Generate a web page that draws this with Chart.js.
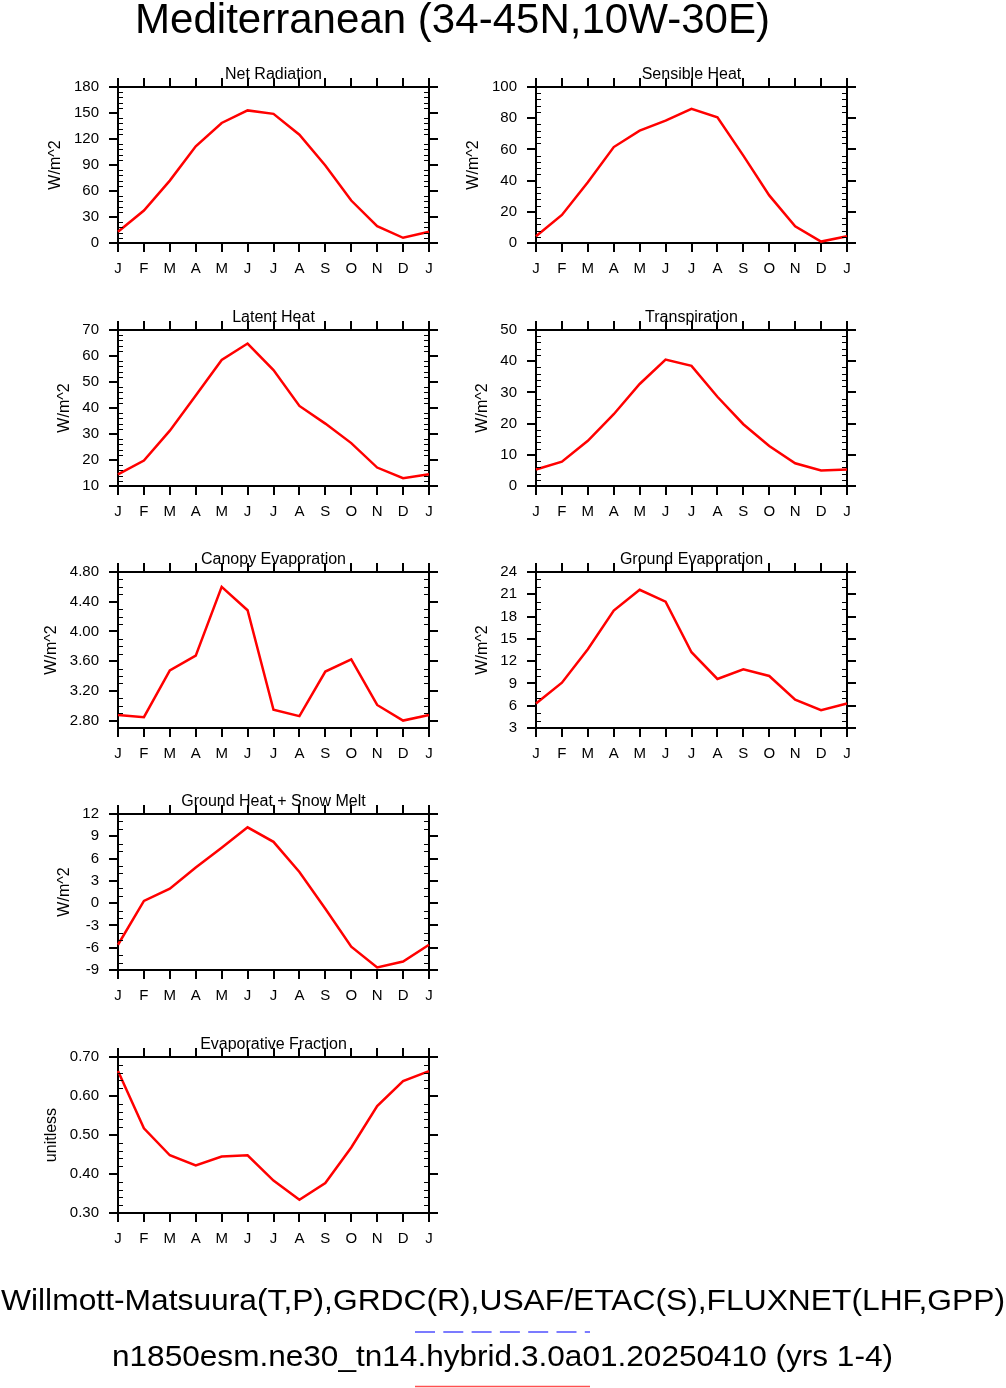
<!DOCTYPE html>
<html>
<head>
<meta charset="utf-8">
<script src="https://cdn.jsdelivr.net/npm/chart.js@4.4.1/dist/chart.umd.min.js"></script>
<style>
html,body{margin:0;padding:0;background:#fff;}
body{width:1006px;height:1388px;position:relative;overflow:hidden;}
canvas{position:absolute;}
</style>
</head>
<body>
<canvas id="textLayer" width="1006" height="1388" style="left:0;top:0;"></canvas>
<script>
// ---------------- DATA ----------------
const months = ['J','F','M','A','M','J','J','A','S','O','N','D','J'];

const netRadiation      = [13, 37.5, 72, 111.5, 138.5, 153, 149, 125, 89.5, 49, 19.5, 6, 13];
const sensibleHeat      = [4.3, 18, 39, 61.5, 72, 78.5, 86, 80.5, 56, 30.5, 10.7, 0.9, 4.3];
const latentHeat        = [14.5, 19.8, 31.3, 44.8, 58.5, 64.8, 54.6, 40.8, 34, 26.5, 17.1, 13, 14.5];
const transpiration     = [5.3, 7.8, 14.5, 23, 32.7, 40.5, 38.5, 28.6, 19.8, 12.8, 7.3, 5.0, 5.3];
const canopyEvaporation = [2.875, 2.845, 3.475, 3.675, 4.6, 4.285, 2.945, 2.86, 3.46, 3.625, 3.01, 2.8, 2.875];
const groundEvaporation = [6.3, 9.1, 13.6, 18.8, 21.6, 20.0, 13.2, 9.6, 10.9, 10.0, 6.8, 5.4, 6.3];
const groundHeatSnow    = [-5.6, 0.3, 1.95, 4.8, 7.45, 10.2, 8.25, 4.2, -0.75, -5.85, -8.65, -7.85, -5.6];
const evapFraction      = [0.664, 0.517, 0.448, 0.422, 0.445, 0.448, 0.383, 0.334, 0.377, 0.468, 0.574, 0.638, 0.664];

const netRadiationTicks      = [0, 30, 60, 90, 120, 150, 180];
const sensibleHeatTicks      = [0, 20, 40, 60, 80, 100];
const latentHeatTicks        = [10, 20, 30, 40, 50, 60, 70];
const transpirationTicks     = [0, 10, 20, 30, 40, 50];
const canopyEvaporationTicks = [2.80, 3.20, 3.60, 4.00, 4.40, 4.80];
const groundEvaporationTicks = [3, 6, 9, 12, 15, 18, 21, 24];
const groundHeatSnowTicks    = [-9, -6, -3, 0, 3, 6, 9, 12];
const evapFractionTicks      = [0.30, 0.40, 0.50, 0.60, 0.70];

const mainTitle = 'Mediterranean (34-45N,10W-30E)';
const obsLabel = 'Willmott-Matsuura(T,P),GRDC(R),USAF/ETAC(S),FLUXNET(LHF,GPP)';
const caseLabel = 'n1850esm.ne30_tn14.hybrid.3.0a01.20250410 (yrs 1-4)';

// ---------------- PANELS ----------------
const panels = [
  {title:'Net Radiation', ylabel:'W/m^2', data:netRadiation, ticks:netRadiationTicks, min:0, max:180, minor:6, dec:0, col:0, row:0},
  {title:'Sensible Heat', ylabel:'W/m^2', data:sensibleHeat, ticks:sensibleHeatTicks, min:0, max:100, minor:4, dec:0, col:1, row:0},
  {title:'Latent Heat', ylabel:'W/m^2', data:latentHeat, ticks:latentHeatTicks, min:10, max:70, minor:2, dec:0, col:0, row:1},
  {title:'Transpiration', ylabel:'W/m^2', data:transpiration, ticks:transpirationTicks, min:0, max:50, minor:2, dec:0, col:1, row:1},
  {title:'Canopy Evaporation', ylabel:'W/m^2', data:canopyEvaporation, ticks:canopyEvaporationTicks, min:2.70, max:4.80, minor:0.1, dec:2, col:0, row:2},
  {title:'Ground Evaporation', ylabel:'W/m^2', data:groundEvaporation, ticks:groundEvaporationTicks, min:3, max:24, minor:1, dec:0, col:1, row:2},
  {title:'Ground Heat + Snow Melt', ylabel:'W/m^2', data:groundHeatSnow, ticks:groundHeatSnowTicks, min:-9, max:12, minor:1, dec:0, col:0, row:3},
  {title:'Evaporative Fraction', ylabel:'unitless', data:evapFraction, ticks:evapFractionTicks, min:0.30, max:0.70, minor:0.02, dec:2, col:0, row:4}
];

// ---------------- LAYOUT ----------------
const FONT = '"Liberation Sans", Arial, Helvetica, sans-serif';
const COL_X = [118, 536];
const ROW_Y = [87, 329.5, 572, 814, 1056.5];
const PLOT_W = 311, PLOT_H = 155.5;
const PAD_L = 95, PAD_R = 25, PAD_T = 40, PAD_B = 40;

const minorTicksPlugin = {
  id: 'minorTicks',
  afterDraw(chart, args, opts) {
    const p = chart.options.plugins.minorTicks.panel;
    const ctx = chart.ctx, ys = chart.scales.y, a = chart.chartArea;
    ctx.save();
    ctx.strokeStyle = '#000';
    ctx.lineWidth = 1.2;
    const n = Math.round((p.max - p.min) / p.minor);
    for (let i = 0; i <= n; i++) {
      const v = p.min + i * p.minor;
      const isMajor = p.ticks.some(t => Math.abs(t - v) < p.minor * 0.01);
      if (isMajor) continue;
      const y = Math.round(ys.getPixelForValue(v)) + 0.5;
      ctx.beginPath();
      ctx.moveTo(a.left, y); ctx.lineTo(a.left + 5, y);
      ctx.moveTo(a.right, y); ctx.lineTo(a.right - 5, y);
      ctx.stroke();
    }
    // panel title
    ctx.fillStyle = '#000';
    ctx.font = '16px ' + FONT;
    ctx.textAlign = 'center';
    ctx.textBaseline = 'alphabetic';
    ctx.fillText(p.title, (a.left + a.right) / 2, a.top - 8.5);
    // y-axis title
    let wmax = 0;
    ctx.font = '15px ' + FONT;
    p.ticks.forEach(t => { wmax = Math.max(wmax, ctx.measureText(t.toFixed(p.dec)).width); });
    const cx = a.left - (wmax + 37);
    ctx.translate(cx, (a.top + a.bottom) / 2);
    ctx.rotate(-Math.PI / 2);
    ctx.font = '16px ' + FONT;
    ctx.textBaseline = 'middle';
    ctx.fillText(p.ylabel, 0, 0);
    ctx.restore();
  }
};

function axisGrid() {
  return {display:true, drawOnChartArea:false, drawTicks:true, tickLength:9, lineWidth:2, color:'#000', offset:false};
}
function axisBorder() {
  return {display:true, width:2, color:'#000'};
}

function makePanel(p) {
  const W = PLOT_W + PAD_L + PAD_R, H = PLOT_H + PAD_T + PAD_B;
  const cv = document.createElement('canvas');
  cv.width = Math.round(W); cv.height = Math.round(H);
  cv.style.left = (COL_X[p.col] - PAD_L) + 'px';
  cv.style.top = (ROW_Y[p.row] - PAD_T) + 'px';
  document.body.appendChild(cv);
  const tickFont = {family: FONT, size: 15};
  new Chart(cv, {
    type: 'line',
    data: {
      labels: months,
      datasets: [{data: p.data, borderColor:'#ff0000', borderWidth:2.5, pointRadius:0, tension:0, fill:false, xAxisID:'x', yAxisID:'y'}]
    },
    options: {
      responsive:false, animation:false, devicePixelRatio:1,
      layout:{padding:0},
      plugins:{legend:{display:false}, tooltip:{enabled:false}, title:{display:false}, minorTicks:{panel:p}},
      scales:{
        x:{type:'category', labels:months, position:'bottom', offset:false,
           grid:axisGrid(), border:axisBorder(),
           ticks:{color:'#000', font:tickFont, padding:8, maxRotation:0, minRotation:0, autoSkip:false},
           afterFit(s){ s.height = PAD_B; }},
        x2:{type:'category', labels:months, position:'top', offset:false,
           grid:axisGrid(), border:axisBorder(),
           ticks:{display:false},
           afterFit(s){ s.height = PAD_T; }},
        y:{type:'linear', position:'left', min:p.min, max:p.max,
           grid:axisGrid(), border:axisBorder(),
           afterBuildTicks(s){ s.ticks = p.ticks.map(v => ({value:v})); },
           ticks:{color:'#000', font:tickFont, padding:10, callback:(v) => Number(v).toFixed(p.dec)},
           afterFit(s){ s.width = PAD_L; }},
        y2:{type:'linear', position:'right', min:p.min, max:p.max,
           grid:axisGrid(), border:axisBorder(),
           afterBuildTicks(s){ s.ticks = p.ticks.map(v => ({value:v})); },
           ticks:{display:false},
           afterFit(s){ s.width = PAD_R; }}
      }
    },
    plugins:[minorTicksPlugin]
  });
}
panels.forEach(makePanel);

// ---------------- TEXT LAYER ----------------
(function(){
  const c = document.getElementById('textLayer');
  const ctx = c.getContext('2d');
  function fitText(txt, size, x0, x1, baseline) {
    ctx.save();
    ctx.font = size + 'px ' + FONT;
    ctx.fillStyle = '#000';
    ctx.textBaseline = 'alphabetic';
    ctx.textAlign = 'left';
    const w = ctx.measureText(txt).width;
    const sx = (x1 - x0) / w;
    ctx.translate(x0, baseline);
    ctx.scale(sx, 1);
    ctx.fillText(txt, 0, 0);
    ctx.restore();
  }
  fitText(mainTitle, 42, 135, 770, 33);
  fitText(obsLabel, 29, 1, 1005, 1310);
  fitText(caseLabel, 30, 112, 893, 1366);
  // legend line samples
  ctx.save();
  ctx.strokeStyle = '#5050ff';
  ctx.lineWidth = 1.7;
  ctx.setLineDash([20, 8.3]);
  ctx.beginPath(); ctx.moveTo(415, 1332); ctx.lineTo(590, 1332); ctx.stroke();
  ctx.setLineDash([]);
  ctx.strokeStyle = '#ff5050';
  ctx.beginPath(); ctx.moveTo(415, 1386.5); ctx.lineTo(590, 1386.5); ctx.stroke();
  ctx.restore();
})();
</script>
</body>
</html>
